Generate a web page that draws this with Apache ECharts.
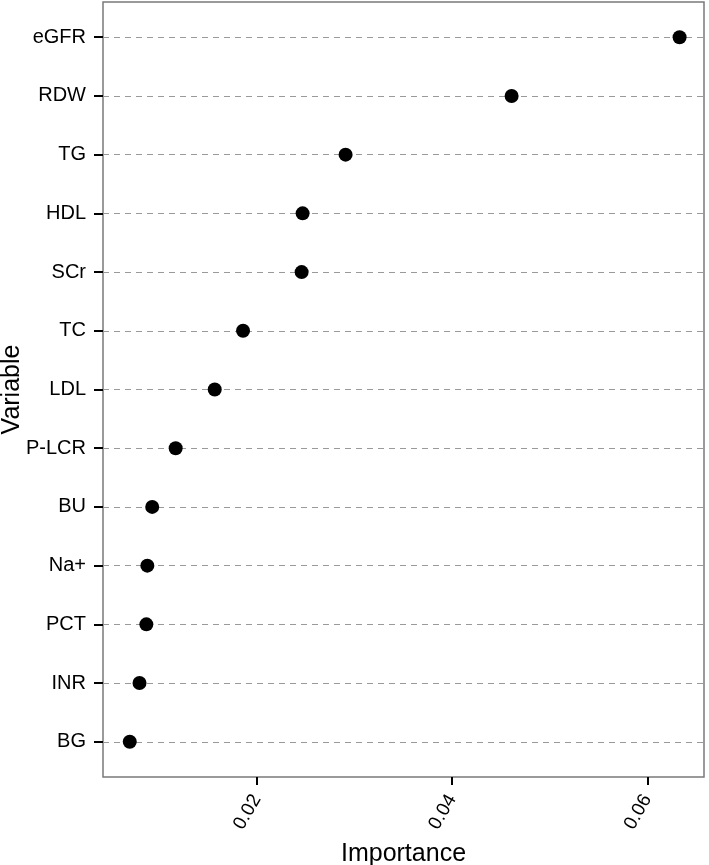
<!DOCTYPE html>
<html>
<head>
<meta charset="utf-8">
<script src="https://cdn.jsdelivr.net/npm/echarts@6/dist/echarts.min.js"></script>
<style>
html,body{margin:0;padding:0;background:#fff;}
#chart{width:709px;height:865px;}
</style>
</head>
<body>
<div id="chart"></div>
<script>
const categories = ["eGFR","RDW","TG","HDL","SCr","TC","LDL","P-LCR","BU","Na+","PCT","INR","BG"];
const importance = [0.0633,0.0461,0.0291,0.0247,0.0246,0.0186,0.0157,0.0117,0.0093,0.0088,0.0087,0.0080,0.0070];
const xTicks = [0.02,0.04,0.06];
const yIdx = categories.map((c,i)=>i);

const chart = echarts.init(document.getElementById('chart'));
const font = 'Liberation Sans, Arial, Helvetica, sans-serif';
chart.setOption({
  animation:false,
  backgroundColor:'#fff',
  grid:{left:103,right:5,top:2,bottom:88,containLabel:false,outerBoundsMode:'none',
    show:true,borderColor:'#7a7a7a',borderWidth:1.5,backgroundColor:'transparent'},
  xAxis:{
    type:'value', min:0.00426, max:0.0658, position:'bottom',
    name:'Importance', nameLocation:'middle', nameGap:65, nameMoveOverlap:false,
    nameTextStyle:{fontFamily:font,fontSize:25,color:'#000'},
    axisLine:{show:false,onZero:false},
    axisTick:{show:true,customValues:xTicks,length:8,lineStyle:{color:'#000',width:2}},
    axisLabel:{customValues:xTicks,rotate:60,margin:19,fontFamily:font,fontSize:19,color:'#000',
      formatter:v=>v.toFixed(2)},
    splitLine:{show:false}
  },
  yAxis:{
    type:'value', inverse:true, min:-0.6, max:12.6, position:'left',
    name:'Variable', nameLocation:'middle', nameGap:78, nameRotate:90, nameMoveOverlap:false,
    nameTextStyle:{fontFamily:font,fontSize:25,color:'#000'},
    axisLine:{show:false,onZero:false},
    axisTick:{show:true,customValues:yIdx,length:9,lineStyle:{color:'#000',width:2}},
    axisLabel:{customValues:yIdx,margin:17,fontFamily:font,fontSize:20,color:'#000',
      formatter:v=>categories[Math.round(v)]},
    splitLine:{show:true,lineStyle:{color:'#9a9a9a',width:1.2,type:[6,5]}}
  },
  series:[{
    type:'scatter',
    symbol:'circle', symbolSize:14,
    itemStyle:{color:'#000',opacity:1},
    data:importance.map((v,i)=>[v,i])
  }]
});
</script>
</body>
</html>
